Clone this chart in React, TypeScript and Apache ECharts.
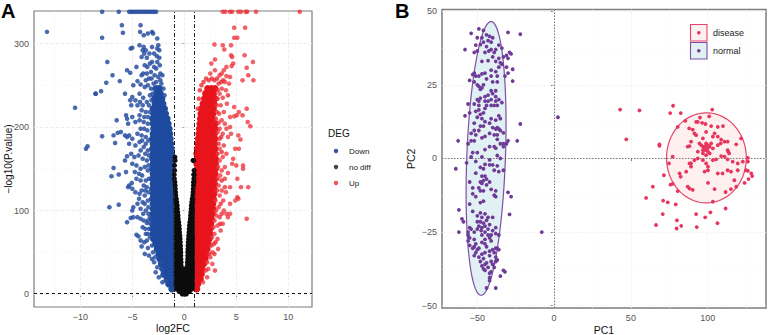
import React, { useEffect, useRef } from "react";
import * as echarts from "echarts";

// ---------- Panel A: volcano plot (log2FC, -log10 P) ----------
const aXTicks = [-10, -5, 0, 5, 10];
const aYTicks = [0, 100, 200, 300];
const aXMinor = [-12.5, -7.5, -2.5, 2.5, 7.5, 12.5];
const aYMinor = [50, 150, 250];
const aVLines = [-1, 1];
const aHLines = [1.3];

// dense cloud: each row is [y, x, x, ...]
const downDenseRows = [
  [6, -1.2], [12, -1.2, -1.5], [18, -1.25, -1.65], [24, -1.2, -1.65, -1.95], [30, -1.25, -1.7, -2.05],
  [36, -1.2, -1.65, -2.1, -2.2], [42, -1.25, -1.7, -2.15, -2.35], [48, -1.2, -1.65, -2.1, -2.45], [54, -1.25, -1.7, -2.15, -2.6],
  [60, -1.2, -1.65, -2.1, -2.55, -2.75], [66, -1.25, -1.7, -2.15, -2.6, -2.95], [72, -1.2, -1.65, -2.1, -2.55, -3.0],
  [78, -1.25, -1.7, -2.15, -2.6, -3.05], [84, -1.2, -1.65, -2.1, -2.55, -3.0], [90, -1.25, -1.7, -2.15, -2.6, -3.05],
  [96, -1.2, -1.65, -2.1, -2.55, -3.0], [102, -1.25, -1.7, -2.15, -2.6, -3.0], [108, -1.2, -1.65, -2.1, -2.55, -3.0],
  [114, -1.25, -1.7, -2.15, -2.6, -3.05], [120, -1.2, -1.65, -2.1, -2.55, -3.0], [126, -1.25, -1.7, -2.15, -2.6, -3.05],
  [132, -1.2, -1.65, -2.1, -2.55, -3.0], [138, -1.25, -1.7, -2.15, -2.6, -3.05], [144, -1.2, -1.65, -2.1, -2.55, -3.0],
  [150, -1.25, -1.7, -2.15, -2.6, -3.05], [156, -1.2, -1.65, -2.1, -2.55, -3.0], [162, -1.25, -1.7, -2.15, -2.6, -3.05],
  [168, -1.25, -1.65, -2.1, -2.55, -3.0], [174, -1.25, -1.7, -2.15, -2.6, -3.05], [180, -1.3, -1.65, -2.1, -2.55, -3.0],
  [186, -1.35, -1.7, -2.15, -2.6, -3.05], [192, -1.4, -1.75, -2.1, -2.55, -3.0], [198, -1.45, -1.8, -2.15, -2.6, -2.95],
  [204, -1.55, -1.9, -2.25, -2.65, -3.0], [210, -1.65, -2.0, -2.3, -2.7, -3.05], [216, -1.8, -2.15, -2.55, -2.95],
  [222, -1.9, -2.25, -2.6, -3.0], [228, -2.05, -2.4, -2.8], [234, -2.15, -2.5, -2.85], [240, -2.3, -2.65], [246, -2.4, -2.7],
];
const upDenseRows = [
  [6, 1.2], [12, 1.2, 1.3], [18, 1.25, 1.55], [24, 1.2, 1.65], [30, 1.25, 1.7],
  [36, 1.2, 1.65, 1.85], [42, 1.25, 1.7, 2.0], [48, 1.2, 1.65, 2.1], [54, 1.25, 1.7, 2.2],
  [60, 1.2, 1.65, 2.1, 2.3], [66, 1.25, 1.7, 2.15, 2.4], [72, 1.2, 1.65, 2.1, 2.45], [78, 1.25, 1.7, 2.15, 2.5],
  [84, 1.2, 1.65, 2.1, 2.55], [90, 1.25, 1.7, 2.15, 2.6], [96, 1.2, 1.65, 2.1, 2.55, 2.7], [102, 1.25, 1.7, 2.15, 2.6, 2.75],
  [108, 1.2, 1.65, 2.1, 2.55, 2.75], [114, 1.25, 1.7, 2.15, 2.6, 2.8], [120, 1.2, 1.65, 2.1, 2.55, 2.85], [126, 1.25, 1.7, 2.15, 2.6, 2.85],
  [132, 1.2, 1.65, 2.1, 2.55, 2.9], [138, 1.25, 1.7, 2.15, 2.6, 2.95], [144, 1.2, 1.65, 2.1, 2.55, 2.95], [150, 1.25, 1.7, 2.15, 2.6, 3.0],
  [156, 1.2, 1.65, 2.1, 2.55, 3.0], [162, 1.25, 1.7, 2.15, 2.6, 3.0], [168, 1.2, 1.65, 2.1, 2.55, 2.95], [174, 1.25, 1.7, 2.15, 2.6, 2.95],
  [180, 1.3, 1.65, 2.1, 2.55, 2.9], [186, 1.35, 1.7, 2.15, 2.6, 2.95], [192, 1.4, 1.75, 2.1, 2.55, 2.9], [198, 1.45, 1.8, 2.15, 2.6, 2.95],
  [204, 1.5, 1.85, 2.25, 2.65, 2.95], [210, 1.55, 1.9, 2.3, 2.7], [216, 1.6, 1.95, 2.35, 2.75], [222, 1.65, 2.0, 2.4, 2.8],
  [228, 1.8, 2.15, 2.5, 2.85], [234, 1.95, 2.3, 2.65, 2.95], [240, 2.05, 2.4, 2.8], [246, 2.25, 2.6, 2.95],
];
const noDiffRows = [
  [0, -0.2, 0, 0.2], [3, -0.5, -0.25, 0, 0.25, 0.5], [6, -0.75, -0.5, -0.25, 0, 0.25, 0.5, 0.75],
  [10, -0.8, -0.5, -0.25, 0, 0.25, 0.5, 0.8], [14, -0.8, -0.5, -0.25, 0, 0.25, 0.5, 0.8],
  [18, -0.8, -0.55, -0.3, -0.1, 0.1, 0.3, 0.55, 0.8], [22, -0.8, -0.55, -0.3, -0.1, 0.1, 0.3, 0.55, 0.8],
  [26, -0.8, -0.55, -0.3, -0.08, 0.08, 0.3, 0.55, 0.8], [30, -0.8, -0.55, -0.3, -0.08, 0.08, 0.3, 0.55, 0.8],
  [34, -0.8, -0.55, -0.3, 0.3, 0.55, 0.8], [38, -0.8, -0.55, -0.3, 0.3, 0.55, 0.8], [42, -0.8, -0.55, -0.32, 0.32, 0.55, 0.8],
  [46, -0.8, -0.55, -0.33, 0.33, 0.55, 0.8], [50, -0.8, -0.55, -0.33, 0.33, 0.55, 0.8], [54, -0.8, -0.55, -0.35, 0.35, 0.55, 0.8],
  [58, -0.8, -0.55, -0.36, 0.36, 0.55, 0.8], [62, -0.8, -0.58, -0.38, 0.38, 0.58, 0.8], [66, -0.8, -0.58, -0.4, 0.4, 0.58, 0.8], [70, -0.8, -0.6, -0.42, 0.42, 0.6, 0.8],
  [74, -0.8, -0.6, -0.45, 0.45, 0.6, 0.8], [78, -0.8, -0.62, -0.47, 0.47, 0.62, 0.8], [82, -0.8, -0.62, -0.5, 0.5, 0.62, 0.8], [86, -0.8, -0.65, -0.53, 0.53, 0.65, 0.8],
  [90, -0.8, -0.58, 0.58, 0.8], [94, -0.8, -0.6, 0.6, 0.8], [98, -0.8, -0.63, 0.63, 0.8], [102, -0.8, -0.66, 0.66, 0.8],
  [106, -0.8, -0.68, 0.68, 0.8], [110, -0.82, -0.72, 0.72, 0.82], [114, -0.84, -0.76, 0.76, 0.84], [118, -0.82, 0.82], [122, -0.84, 0.84], [126, -0.86, 0.86],
  [130, -0.88, 0.88], [134, -0.9, 0.88, 0.94], [138, -0.95, 0.92], [143, -0.96, 0.9, 0.96], [148, -0.92, 0.94],
  [154, -0.94], [160, -0.88, 0.84, 0.9], [164, -0.9],
];
const downSparse = [
  [-7.9, 338], [-6.3, 338], [-5.3, 338], [-5.1, 338], [-4.9, 338], [-4.7, 338], [-4.5, 338], [-4.3, 338], [-4.1, 338], [-3.9, 338], [-3.7, 338], [-3.5, 338], [-3.3, 338], [-3.1, 338], [-2.9, 338], [-2.7, 338],
  [-13.2, 314], [-7.9, 307], [-6.0, 322], [-5.9, 313], [-4.2, 322], [-4.25, 314], [-3.9, 310], [-3.5, 312], [-3.1, 314], [-3.0, 312], [-2.6, 306],
  [-7.4, 278], [-6.9, 262], [-6.2, 255], [-7.5, 253], [-8.0, 243], [-8.5, 240], [-8.55, 240], [-10.5, 223], [-5.7, 240], [-5.5, 268], [-5.2, 265], [-4.6, 272],
  [-5.15, 294], [-5.0, 295], [-4.3, 298], [-3.9, 296], [-3.7, 292], [-4.1, 284], [-3.6, 283], [-4.0, 292], [-3.85, 288], [-2.5, 298], [-2.6, 294], [-2.4, 292], [-2.65, 285], [-2.4, 283], [-3.1, 278], [-3.3, 276], [-2.9, 272], [-2.7, 270], [-3.2, 266], [-3.6, 264], [-3.95, 264], [-2.3, 264], [-2.5, 260], [-3.4, 258], [-4.5, 255], [-4.9, 250], [-4.2, 251], [-3.8, 248], [-3.5, 250], [-5.0, 236], [-5.2, 232], [-4.7, 232], [-4.3, 240], [-3.95, 235], [-3.6, 230], [-5.1, 226], [-4.5, 226], [-4.1, 220], [-3.7, 218], [-5.6, 214], [-5.5, 210], [-5.0, 212], [-4.7, 206], [-4.3, 208], [-3.9, 206], [-3.5, 204], [-5.4, 204],
  [-7.9, 189], [-6.5, 208], [-6.8, 190], [-6.65, 181], [-6.4, 193], [-6.1, 194], [-5.7, 190], [-5.5, 188], [-5.3, 190], [-5.0, 186], [-4.5, 192], [-4.1, 190], [-3.7, 188], [-9.3, 177], [-9.45, 174], [-5.3, 180], [-4.7, 178], [-4.3, 182], [-3.9, 176], [-3.5, 172], [-5.5, 165], [-5.1, 168], [-4.8, 164], [-4.4, 166], [-4.0, 162], [-3.6, 160], [-5.7, 160], [-5.0, 156], [-4.6, 154], [-4.2, 150], [-3.8, 152], [-3.5, 148],
  [-6.8, 151], [-7.0, 141], [-6.3, 143], [-5.6, 146], [-5.3, 130], [-5.05, 133], [-5.4, 128], [-5.0, 126], [-4.6, 138], [-4.2, 136], [-3.9, 130], [-3.6, 128], [-4.7, 122], [-4.3, 120], [-3.8, 118], [-3.5, 112], [-7.2, 104], [-6.3, 107], [-5.5, 86], [-4.9, 104], [-5.0, 100], [-5.15, 91], [-4.9, 92], [-4.5, 108], [-4.2, 102], [-4.0, 110], [-3.7, 100], [-4.5, 92], [-4.2, 90], [-3.9, 88], [-3.6, 85], [-3.3, 92],
  [-4.6, 71], [-4.4, 69], [-4.2, 64], [-4.1, 57], [-3.7, 72], [-3.4, 78], [-3.6, 64], [-3.3, 68], [-3.5, 55], [-3.1, 58], [-3.8, 48], [-3.4, 46], [-3.0, 50], [-2.8, 44], [-2.9, 38], [-2.6, 32], [-2.3, 38], [-2.2, 30], [-2.1, 22], [-1.8, 16],
];
const downFringe = [
  [-2.1, 262], [-2.3, 256], [-2.7, 254], [-2.95, 252], [-3.2, 246], [-3.05, 240], [-2.9, 246], [-3.3, 238], [-3.15, 232], [-3.4, 226], [-3.3, 218], [-3.5, 212], [-2.2, 252], [-2.0, 246], [-1.9, 238], [-2.35, 274], [-2.6, 278], [-2.85, 262], [-3.15, 258], [-3.7, 256], [-4.1, 262], [-2.9, 288], [-3.1, 296], [-3.35, 288], [-3.55, 272], [-3.8, 274], [-4.25, 230], [-4.0, 226], [-4.3, 214], [-3.85, 212], [-3.55, 196], [-3.85, 198], [-4.2, 198], [-3.45, 184], [-3.7, 180], [-4.05, 184], [-3.4, 166], [-3.75, 168], [-4.2, 172], [-3.45, 154], [-4.05, 142], [-3.4, 138], [-3.7, 136], [-3.45, 122], [-3.75, 124], [-4.1, 124], [-3.45, 104], [-3.8, 108], [-3.45, 96], [-3.95, 96], [-4.35, 114], [-3.5, 88], [-3.75, 78], [-4.0, 80], [-3.25, 84], [-3.5, 72], [-4.35, 144], [-4.75, 146], [-3.85, 62], [-3.1, 42], [-2.75, 26], [-2.45, 20], [-2.1, 14],
];
const upSparse = [
  [3.7, 338], [3.95, 338], [4.4, 338], [4.6, 338], [5.2, 338], [5.45, 338], [5.9, 338], [6.05, 338], [6.9, 338], [11.1, 338],
  [4.8, 319], [5.85, 319], [4.8, 307], [5.1, 307], [2.9, 299], [3.7, 298], [4.5, 298], [3.85, 293], [4.5, 286], [4.6, 284], [5.8, 286], [2.95, 281], [2.6, 276], [4.7, 276], [4.55, 273], [4.05, 272], [6.6, 278], [6.0, 271], [6.15, 262], [5.6, 256], [6.65, 256],
  [2.5, 264], [3.6, 264], [4.4, 260], [2.95, 268], [4.05, 261], [3.8, 268], [3.4, 262], [3.9, 254], [4.3, 252], [3.6, 246], [3.4, 240], [4.0, 244], [3.7, 235], [4.1, 228], [3.5, 226], [3.35, 216], [3.8, 218], [4.8, 224], [6.0, 222], [5.25, 218], [4.8, 213], [5.05, 214], [4.4, 212], [5.6, 214], [6.1, 206], [6.35, 201], [3.6, 208], [3.9, 204], [3.4, 198], [5.2, 190], [5.4, 185], [4.4, 200], [4.05, 198], [4.5, 192], [4.2, 188], [3.7, 192], [3.4, 186], [3.8, 178], [3.4, 174],
  [4.9, 174], [5.25, 174], [4.7, 162], [4.05, 168], [3.7, 164], [3.4, 160], [4.6, 156], [5.65, 154], [5.65, 150], [5.0, 154], [4.2, 145], [3.9, 152], [3.6, 148], [3.45, 142], [3.9, 138], [5.1, 138], [5.45, 128], [6.15, 128], [4.4, 128], [3.6, 124], [3.3, 130], [4.0, 122], [3.75, 112], [3.4, 118], [5.1, 116], [4.9, 112], [5.2, 114], [4.4, 108], [3.3, 104], [3.8, 100],
  [4.05, 96], [4.4, 96], [4.2, 92], [6.0, 90], [3.4, 92], [3.1, 94], [3.7, 84], [3.2, 82], [3.5, 76], [2.9, 72], [3.2, 66], [2.85, 60], [3.25, 54], [2.7, 50], [2.5, 44], [2.7, 36], [2.95, 28], [2.3, 30], [2.2, 20], [1.8, 14],
];
const upFringe = [
  [1.65, 250], [1.85, 254], [2.1, 258], [2.35, 256], [2.65, 258], [2.9, 256], [3.15, 258], [3.3, 252], [3.2, 244], [3.2, 234], [3.1, 226], [3.15, 218], [3.05, 210], [1.5, 244], [1.4, 234], [1.3, 222], [3.3, 205], [3.2, 194], [3.3, 180], [3.2, 168], [3.25, 152], [3.2, 138], [3.15, 124], [3.0, 112], [3.05, 100], [2.9, 88], [2.8, 80], [2.65, 68], [2.6, 58], [2.4, 48], [2.2, 38], [2.05, 28],
  [3.55, 254], [3.75, 256], [4.2, 238], [3.6, 170], [3.55, 188], [3.6, 136], [3.9, 128], [3.5, 108], [3.6, 96], [3.45, 84], [3.0, 62], [2.9, 48],
];

// ---------- Panel B: PCA ----------
const bXTicks = [-50, 0, 50, 100];
const bYTicks = [-50, -25, 0, 25, 50];
const bXMinor = [-25, 25, 75, 125];
const bYMinor = [-37.5, -12.5, 12.5, 37.5];
const bZeroX = [0];
const bZeroY = [0];
// centre x, centre y, half width, half height, shear of the confidence ellipse
const normalEllipse = [-44.3, 0, 12.6, 46.5, 3.25];
const diseaseEllipse = [99.2, 0.2, 26, 15.3, 0];

const diseasePoints = [
  [43, 16.6], [55.6, 16.3], [47, 6.5], [77.5, 17.9], [75.6, 15.4], [82.5, 15.4], [103, 16.6], [95, 13.9], [101, 14.3], [85.5, 12.8], [80.5, 10.7], [92.5, 12.4], [93.6, 12.4], [96.4, 12.1], [98.6, 11.7],
  [88, 10.2], [90.3, 9.8], [91.4, 8.5], [92.5, 7.9], [102.3, 11], [106.6, 10.7], [110, 11], [99, 9], [104.5, 8.5], [106.6, 7.4], [103.4, 7.4], [96.9, 6.8], [108.8, 6.4], [111, 5.7], [113, 5.7], [108.5, 5.1], [118.6, 4.8], [121.8, 6.8],
  [89.2, 5.7], [88.2, 4.2], [87, 4], [68.6, 4.8], [68.6, 4.3], [93.6, 2.3], [94.7, 5.1], [95.8, 4.5], [96.9, 4], [98, 3.4], [99, 2.8], [100.2, 2.3], [101.3, 4], [99, 5.1], [97.4, 2.8], [100.2, 4.5], [98.5, 4.2], [99.8, 3.4], [101.3, 1.7], [102.3, 5.1], [103.4, 3.4], [96.9, 2.8], [96.9, 1.7], [99, 1.1],
  [106.6, 4.5], [113, 2.8], [113.4, 2.3], [114, 1.7], [108.8, 0.8], [111, 0.6], [113, -0.3], [116.3, -1.1], [119.6, -1.7], [122.9, -1.1], [126.2, 0.2], [126.2, -1.1], [125, -4], [126.2, -4.2], [128.4, -5.1], [129, -6], [126.6, -7], [124, -8.3], [118.6, -9.6], [117.4, -7.4], [119.6, -4], [115.2, -4.5], [113, -4], [109.7, -5.1], [106.6, -5.1], [100.2, -4], [98, -4.5],
  [96.9, -0.6], [93.6, 0], [91.4, -0.6], [89.2, -1.7], [88.2, -1.7], [103.4, -0.6], [105.5, -0.3], [99, -1.7], [100.2, -2.8], [100.2, -8.3], [104.5, -10.4], [111.7, -11.4], [115.2, -10.4], [77.2, 0.6], [74.8, -1.7], [71.5, -5.7], [81.7, -5.1], [82.4, -6.2], [86, -4.5], [89.2, -2.8], [75.8, -8.9], [77.2, -8.6], [80.5, -11.1], [87, -9.6], [88.2, -10.2], [90.3, -10.7],
  [64.3, -9.6], [59.9, -13.4], [71, -14.3], [74, -14.9], [79.2, -15.6], [70.8, -18.9], [80, -21], [66.4, -22.6], [79.8, -23.8], [82.8, -22.9], [92.5, -18.9], [98.4, -20], [101.8, -18.3], [92.9, -23.3], [106.4, -22], [111.7, -17], [103.4, -14.7],
];
const normalPoints = [
  [-49, 44], [-46, 43.5], [-54, 42.5], [-44, 42], [-30, 42.8], [-22, 42.2], [-50, 41], [-47, 41], [-42, 41.5], [-40, 41], [-43, 40], [-46, 39.5], [-41, 39.5], [-51, 38.5], [-48, 38.7], [-44, 38], [-36, 38.5], [-34, 37.5], [-38, 37], [-41, 37], [-42.5, 36.5], [-50, 36.5], [-52, 36], [-58, 37], [-45, 36], [-39, 36], [-29, 36], [-28, 35.5], [-31, 35], [-33, 34.5], [-30, 34], [-36, 34], [-40, 34.5],
  [-47, 33], [-43, 33.2], [-38, 33], [-35, 32.5], [-34, 32], [-31, 31], [-36, 31], [-27, 30.3], [-30, 29], [-41, 30], [-38, 29.5], [-45, 29], [-47, 28.7], [-52, 29], [-53, 28.5], [-51, 28], [-49, 28], [-41, 28], [-37, 28], [-32, 28], [-44, 27], [-55, 26.5], [-27, 26.3], [-52, 26], [-40, 26], [-37, 26], [-50, 25], [-49, 24.5], [-46, 25], [-47, 24], [-48, 23.5],
  [-41, 23], [-38, 23], [-40, 22], [-43, 21.5], [-38, 21], [-45, 21], [-48, 20.5], [-50, 20], [-49, 19.5], [-45, 19.5], [-43, 19.5], [-41, 20], [-38, 19.5], [-36, 20], [-34, 19], [-49, 18], [-52, 18.5], [-56, 18.5], [-44, 18], [-41, 18], [-39, 18], [-37, 18], [-49, 16.5], [-45, 17], [-51, 16], [-46, 15.5], [-48, 15], [-55, 15.5],
  [-58, 14.5], [-36, 14.5], [-50, 14], [-47, 13.5], [-41, 13.5], [-38, 13], [-35, 13.5], [-45, 12.5], [-42, 12], [-52, 12], [-22, 11.7], [-48, 11], [-46, 11], [-37, 10.5], [-40, 10.5], [-38, 10], [-36, 10], [-52, 9.5], [-49, 9.5], [-35, 9.5], [-33, 8.7], [-54, 8.5], [-51, 8], [-42, 8.5], [-39, 8], [-37, 8], [-47, 7], [-45, 7.5], [-37, 6.5], [-62.5, 6], [-30, 6], [-24, 6], [-54, 6], [-52, 6], [-33, 5], [-35, 5], [-31, 5],
  [-56, 5], [-42, 4], [-39, 4], [-38, 3.5], [-33, 4], [-45, 3], [-53, 2], [-50, 2], [-54, 0.5], [-47, 0.5], [-37, 1], [-35, 0], [-51, -1], [-42, -0.5], [-45, -2], [-57, -1.5], [-42, -2.2], [-40, -2.2], [-37, -2.5], [-64, -3.5], [-48, -3], [-46, -3.5], [-39, -4], [-33, -4], [-36, -4.5], [-51, -5],
  [-45, -6], [-47, -6], [-44, -7], [-46, -7.5], [-48, -8], [-42, -8], [-55, -8], [-47, -8.5], [-44, -9], [-49, -10], [-53, -10], [-41, -10.5], [-46, -11], [-48, -11], [-38, -11], [-53, -12], [-30, -11.5], [-39, -12.5], [-38, -13], [-51, -13], [-28, -13], [-46, -14.5], [-55, -15.5], [-48, -15],
  [-62, -17.5], [-53, -18], [-48, -18.5], [-45, -18.8], [-29, -19], [-50, -19.5], [-47, -20], [-43, -20], [-40, -20], [-60, -20.5], [-44, -21], [-59, -21.5], [-50, -21.5], [-48, -21.5], [-46, -22], [-42, -22.5], [-49, -23], [-45, -23], [-54, -24], [-43, -24], [-47, -23.5], [-55, -23.5], [-50, -24], [-47.5, -24.5], [-62, -25], [-56, -25], [-45, -25], [-52, -25],
  [-8, -25], [-38, -23.5], [-40, -24.5], [-47, -26], [-43, -26], [-41, -26], [-38, -25.5], [-36, -26], [-56, -26], [-55, -27], [-42, -27], [-52, -27.5], [-45, -27.5], [-56, -28], [-47, -28.5], [-41, -28], [-45, -29], [-51, -29], [-55, -29.5], [-52, -30], [-49, -30.5], [-44, -30], [-38, -30.5], [-53, -30.5], [-50, -31], [-40, -31], [-37, -30.5], [-36, -31], [-42, -31.5], [-51, -32], [-45, -32], [-39, -32], [-52, -33], [-47, -32.5], [-42, -33], [-49, -33.5], [-38, -33.5], [-37, -34.5], [-46, -34],
  [-48, -35], [-44, -35.5], [-41, -35], [-38, -35], [-45, -36], [-47, -36.5], [-43, -37], [-40, -36], [-46, -37.5], [-39, -37], [-45, -38], [-41, -38.5], [-33, -38], [-32, -38.5], [-42, -39], [-35, -40], [-42, -40.5], [-42, -41.5], [-44, -44], [-38, -44],
  [2.5, 14],
];

const FONT = "'Liberation Sans', Arial, sans-serif";
const rowsToPoints = (rows: number[][]) =>
  rows.flatMap((r) => r.slice(1).map((x) => [x, r[0]]));
const minus = (v: number) => String(v).replace("-", "\u2212");

const axis = (grid: number, min: number, max: number, ticks: number[], name: string, nameGap: number, size: number) => ({
  type: "value",
  gridIndex: grid,
  min,
  max,
  name,
  nameLocation: "middle",
  nameGap,
  nameMoveOverlap: false,
  nameTextStyle: { color: "#111", fontSize: size, fontFamily: FONT },
  axisLine: { show: false },
  axisTick: { show: true, customValues: ticks, length: 3, lineStyle: { color: "#444", width: 0.8 } },
  axisLabel: { show: true, customValues: ticks, margin: 5, color: "#555", fontSize: 9, fontFamily: FONT, formatter: minus },
  splitLine: { show: false },
});

const vRules = (vals: number[], lineStyle: object, z: number) => ({
  silent: true, symbol: "none", z, animation: false, label: { show: false }, lineStyle,
  data: vals.map((v) => ({ xAxis: v })),
});
const hRules = (vals: number[], lineStyle: object, z: number) => ({
  silent: true, symbol: "none", z, animation: false, label: { show: false }, lineStyle,
  data: vals.map((v) => ({ yAxis: v })),
});
const ruleSeries = (grid: number, m: object, z: number) => ({
  type: "scatter", xAxisIndex: grid, yAxisIndex: grid, data: [], z, markLine: m,
});
const dots = (grid: number, data: number[][], color: string, size: number, opacity: number, z: number) => ({
  type: "scatter", xAxisIndex: grid, yAxisIndex: grid, data, z, clip: true, symbolSize: size,
  itemStyle: { color, opacity }, silent: true,
});
const ellipse = (params: number[], fill: string, stroke: string) => ({
  type: "custom",
  xAxisIndex: 1,
  yAxisIndex: 1,
  z: 2,
  silent: true,
  data: [params],
  encode: { x: 0, y: 1 },
  renderItem: (_: unknown, api: any) => {
    const [cx, cy, a, b, s] = [0, 1, 2, 3, 4].map((i) => api.value(i));
    const points: number[][] = [];
    for (let d = 0; d < 360; d += 4) {
      const t = (d * Math.PI) / 180;
      points.push(api.coord([cx + a * Math.cos(t) + s * Math.sin(t), cy + b * Math.sin(t)]));
    }
    return { type: "polygon", shape: { points }, style: { fill, stroke, lineWidth: 1.2 } };
  },
});

const gridLine = { color: "#ececec", width: 0.9 };
const minorLine = { color: "#f3f3f3", width: 0.5 };
const bGridLine = { color: "#f3f3f3", width: 0.8 };
const bMinorLine = { color: "#f8f8f8", width: 0.5 };
const refLine = { color: "#111", width: 1, type: [3, 3] };
const dotDash = { color: "#222", width: 1, type: [4, 2, 1, 2] };
const zeroLine = { color: "#777", width: 1, type: [1.5, 1.5] };

const legendA = [
  { label: "Down", color: "#3f51a5" },
  { label: "no diff", color: "#444444" },
  { label: "Up", color: "#ef5555" },
];
const legendB = [
  { label: "disease", color: "#e6365f", fill: "#fdf0ee", stroke: "#e8456b" },
  { label: "normal", color: "#6f3b98", fill: "#e1f0f3", stroke: "#7f4fa6" },
];

export default function App() {
  const ref = useRef<HTMLDivElement>(null);
  useEffect(() => {
    const chart = echarts.init(ref.current!, null, { renderer: "svg" });
    const txt = (text: string, x: number, y: number, fontSize: number, extra: object = {}) => ({
      type: "text", x, y, silent: true,
      style: { text, fontSize, fontFamily: FONT, fill: "#111", textVerticalAlign: "middle", ...extra },
    });
    chart.setOption({
      animation: false,
      backgroundColor: "#ffffff",
      grid: [
        { left: 34, top: 11, width: 278, height: 296, show: true, borderColor: "#7c7c7c", borderWidth: 1.2, backgroundColor: "#fff", containLabel: false, outerBoundsMode: "none" },
        { left: 442, top: 9.5, width: 324, height: 298.5, show: true, borderColor: "#7c7c7c", borderWidth: 1.5, backgroundColor: "#fff", containLabel: false, outerBoundsMode: "none" },
      ],
      xAxis: [
        axis(0, -14.45, 12.28, aXTicks, "log2FC", 15, 10.5),
        axis(1, -73, 138, bXTicks, "PC1", 16, 10.5),
      ],
      yAxis: [
        axis(0, -15.6, 339, aYTicks, "\u2212log10(P.value)", 21, 10),
        axis(1, -50.8, 50.6, bYTicks, "PC2", 26, 10.5),
      ],
      series: [
        ruleSeries(0, vRules(aXTicks, gridLine, 1), 1),
        ruleSeries(0, hRules(aYTicks, gridLine, 1), 1),
        ruleSeries(0, vRules(aXMinor, minorLine, 1), 1),
        ruleSeries(0, hRules(aYMinor, minorLine, 1), 1),
        dots(0, rowsToPoints(downDenseRows), "#1e4a9f", 7, 1, 3),
        dots(0, rowsToPoints(upDenseRows), "#e8141c", 7, 1, 3),
        dots(0, downSparse, "#2a50a2", 4.6, 0.85, 4),
        dots(0, downFringe, "#2a50a2", 4.6, 0.85, 4),
        dots(0, upSparse, "#ec2c34", 4.6, 0.75, 4),
        dots(0, upFringe, "#ec2c34", 4.6, 0.8, 4),
        dots(0, rowsToPoints(noDiffRows), "#0c0c0c", 5, 1, 5),
        ruleSeries(0, vRules(aVLines, dotDash, 10), 10),
        ruleSeries(0, hRules(aHLines, refLine, 10), 10),

        ruleSeries(1, vRules(bXTicks, bGridLine, 1), 1),
        ruleSeries(1, hRules(bYTicks, bGridLine, 1), 1),
        ruleSeries(1, vRules(bXMinor, bMinorLine, 1), 1),
        ruleSeries(1, hRules(bYMinor, bMinorLine, 1), 1),
        ellipse(diseaseEllipse, "#fdf0ee", "#e8456b"),
        ellipse(normalEllipse, "#e1f0f3", "#7f4fa6"),
        ruleSeries(1, vRules(bZeroX, zeroLine, 3), 3),
        ruleSeries(1, hRules(bZeroY, zeroLine, 3), 3),
        dots(1, diseasePoints, "#e6365f", 3.8, 1, 4),
        dots(1, normalPoints, "#6f3b98", 3.8, 1, 4),
      ],
      graphic: [
        txt("A", 1, 11, 20, { fontWeight: "bold", fill: "#000" }),
        txt("B", 395, 11, 20, { fontWeight: "bold", fill: "#000" }),
        txt("DEG", 328, 133.5, 10),
        ...legendA.flatMap((l, i) => [
          { type: "circle", silent: true, shape: { cx: 336, cy: 151 + i * 16, r: 2.2 }, style: { fill: l.color } },
          txt(l.label, 349, 151 + i * 16, 8, { fill: "#222" }),
        ]),
        ...legendB.flatMap((l, i) => [
          { type: "rect", silent: true, z: 20, shape: { x: 690.5, y: 24.5 + i * 18, width: 16.5, height: 16.5 }, style: { fill: l.fill, stroke: l.stroke, lineWidth: 1.1 } },
          { type: "circle", silent: true, z: 21, shape: { cx: 698.8, cy: 32.8 + i * 18, r: 1.8 }, style: { fill: l.color } },
          { ...txt(l.label, 713, 32.8 + i * 18, 9, { fill: "#222" }), z: 21 },
        ]),
      ],
    });
    return () => chart.dispose();
  }, []);
  return <div ref={ref} style={{ position: "fixed", left: 0, top: 0, width: 768, height: 335 }} />;
}
